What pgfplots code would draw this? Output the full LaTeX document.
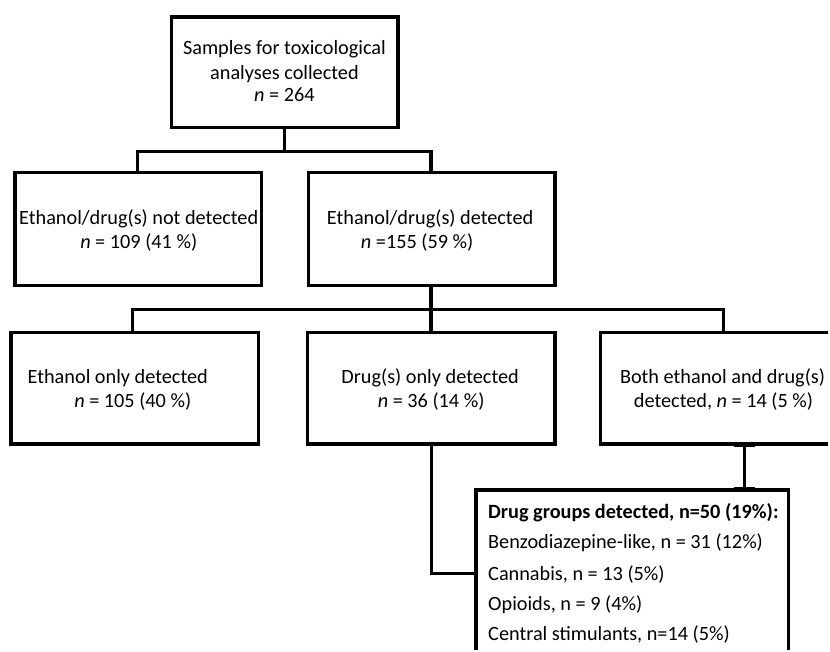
\documentclass[border=0pt]{standalone}
\usepackage{fontspec}
\setmainfont{Carlito}
\usepackage{pgfplots}
\pgfplotsset{compat=1.18}
\tikzset{txt/.style={anchor=base, inner sep=0pt, font=\fontsize{20.3}{24}\selectfont}}

\begin{document}
\begin{tikzpicture}
\begin{axis}[
    width=830pt, height=651pt, scale only axis,
    xmin=0, xmax=830, ymin=0, ymax=651, y dir=reverse,
    axis lines=none, ticks=none, clip=false,
    bx/.style={black, solid, line width=3.4pt, line join=miter, mark=none},
  ]
  % invisible frame, keeps the page at the full 830 x 651
  \addplot[draw=none, mark=none] coordinates {(0,0) (830,651)};
  % boxes
  \addplot[bx] coordinates {(172,17) (399,17) (399,128) (172,128)} -- cycle;
  \addplot[bx] coordinates {(15,173) (262,173) (262,286) (15,286)} -- cycle;
  \addplot[bx] coordinates {(309,173) (556,173) (556,286) (309,286)} -- cycle;
  \addplot[bx] coordinates {(11,333) (259,333) (259,445) (11,445)} -- cycle;
  \addplot[bx] coordinates {(308,333) (556,333) (556,445) (308,445)} -- cycle;
  \addplot[bx] coordinates {(830,333) (602,333) (602,445) (830,445)};
  \addplot[bx] coordinates {(477,651) (477,491) (790,491) (790,651)};
  % connectors
  \addplot[bx] coordinates {(285,128) (285,152)};
  \addplot[bx] coordinates {(138,173) (138,152) (432,152) (432,173)};
  \addplot[bx] coordinates {(432,286) (432,310)};
  \addplot[bx] coordinates {(133,333) (133,310) (725,310) (725,333)};
  \addplot[bx] coordinates {(432,310) (432,333)};
  \addplot[bx, line width=2.8pt] coordinates {(432,445) (432,575) (477,575)};
  \addplot[bx, line width=3.8pt] coordinates {(746,445) (746,491)};
  \addplot[bx] coordinates {(735,446) (757,446)};
  \addplot[bx] coordinates {(735,490) (757,490)};
  % text
  \node[txt] at (axis cs:285,55) {Samples for toxicological};
  \node[txt] at (axis cs:285,80) {analyses collected};
  \node[txt] at (axis cs:285,102) {\textit{n} = 264};
  \node[txt] at (axis cs:139,225) {Ethanol/drug(s) not detected};
  \node[txt] at (axis cs:139,249) {\textit{n} = 109 (41 \%)};
  \node[txt] at (axis cs:431,225) {Ethanol/drug(s) detected};
  \node[txt] at (axis cs:418,249) {\textit{n} =155 (59 \%)};
  \node[txt] at (axis cs:118,384) {Ethanol only detected};
  \node[txt] at (axis cs:133,408) {\textit{n} = 105 (40 \%)};
  \node[txt] at (axis cs:431,384) {Drug(s) only detected};
  \node[txt] at (axis cs:432,408) {\textit{n} = 36 (14 \%)};
  \node[txt] at (axis cs:724,384) {Both ethanol and drug(s)};
  \node[txt] at (axis cs:725,408) {detected, \textit{n} = 14 (5 \%)};
  \node[txt, anchor=base west] at (axis cs:489,520) {\textbf{Drug groups detected, n=50 (19\%):}};
  \node[txt, anchor=base west] at (axis cs:489,550) {Benzodiazepine-like, n = 31 (12\%)};
  \node[txt, anchor=base west] at (axis cs:489,582) {Cannabis, n = 13 (5\%)};
  \node[txt, anchor=base west] at (axis cs:489,612) {Opioids, n = 9 (4\%)};
  \node[txt, anchor=base west] at (axis cs:489,642) {Central stimulants, n=14 (5\%)};
\end{axis}
\end{tikzpicture}
\end{document}
